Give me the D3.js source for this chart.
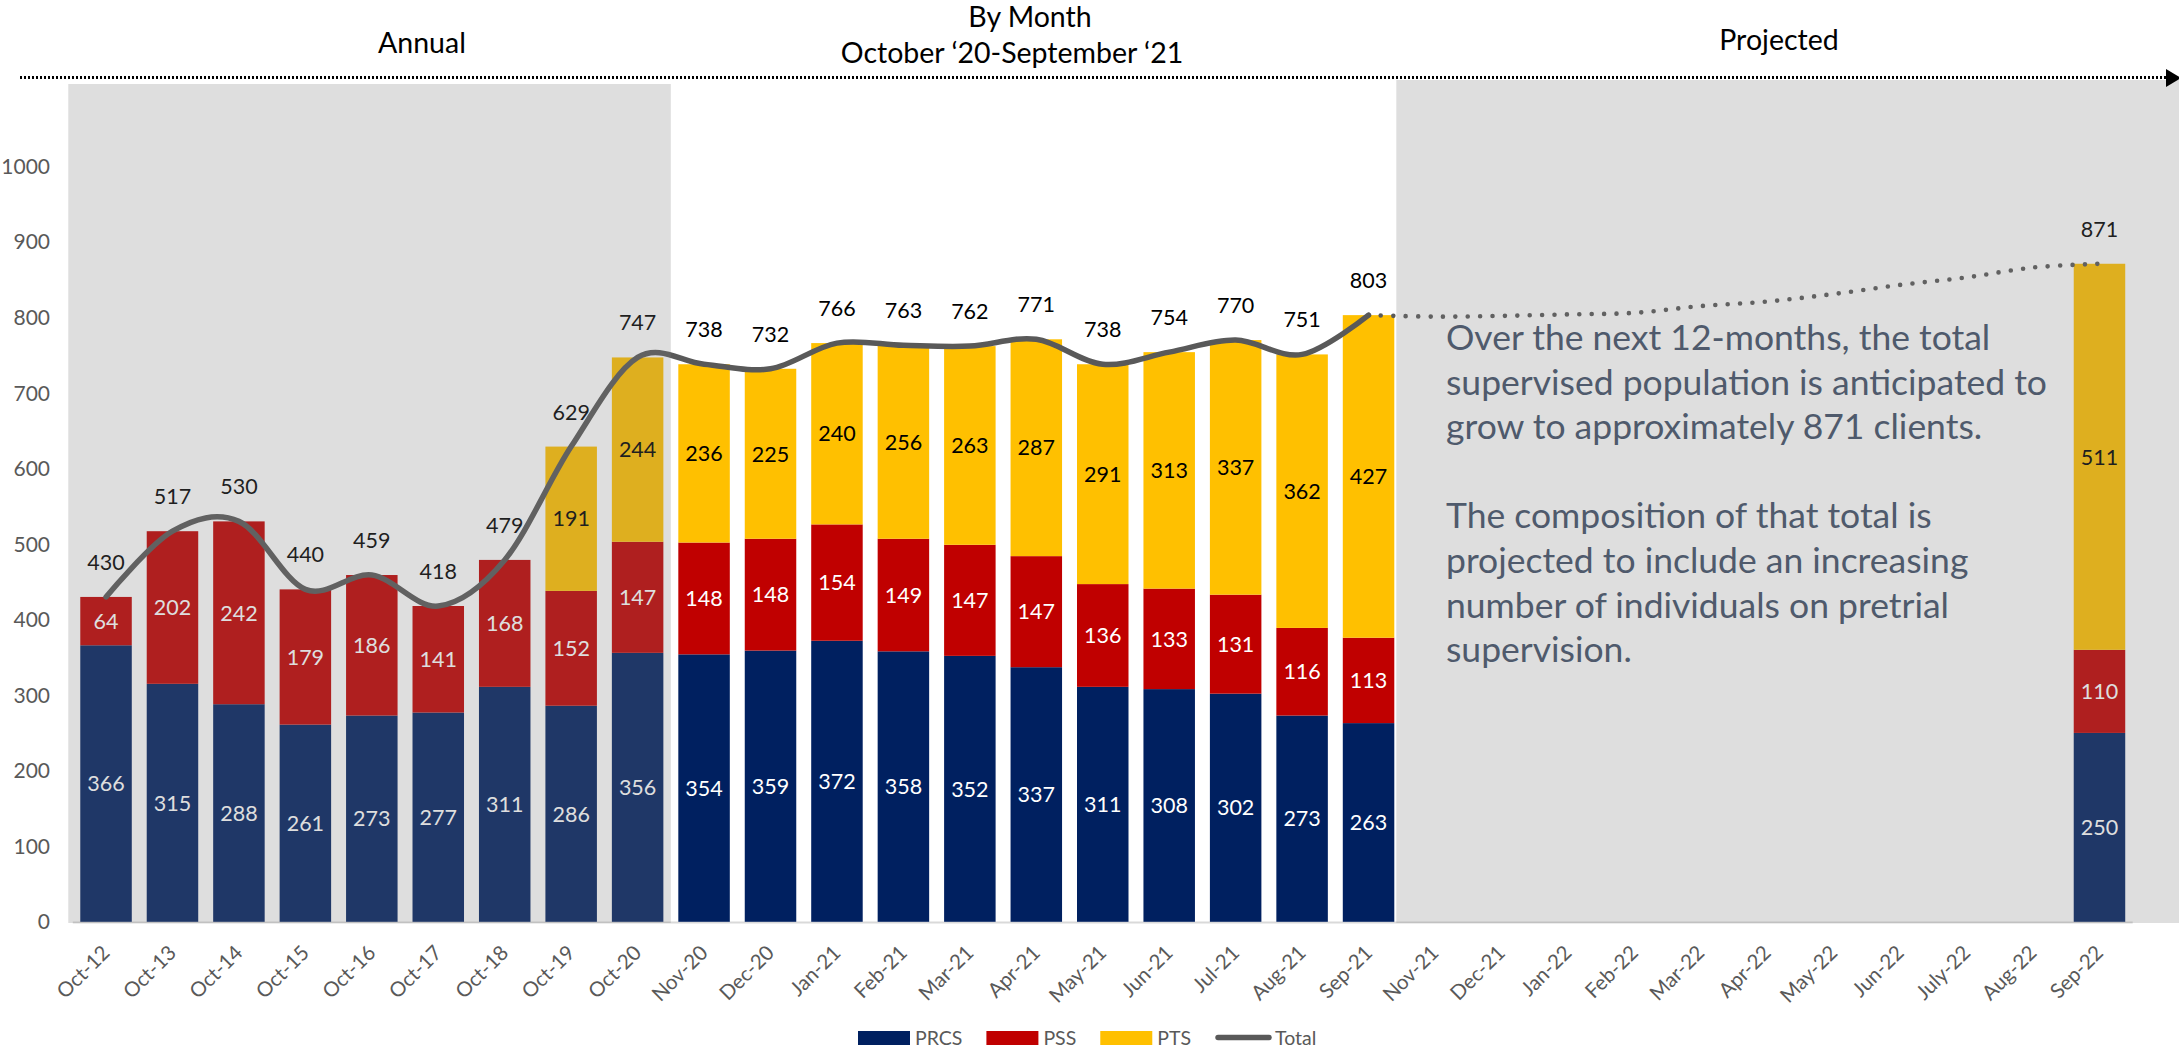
<!DOCTYPE html>
<html lang="en">
<head>
    <meta charset="UTF-8">
    <title>Supervised Population</title>
    <style>
        body {
            margin: 0;
            padding: 0;
            background: #fff;
            overflow: hidden;
        }
        text {
            font-family: Lato, "Liberation Sans", sans-serif;
        }
    </style>
</head>
<body>
    <div id="chart"></div>

    <script src="https://d3js.org/d3.v7.min.js"></script>
    <script>
        // chart data
        const categories = ["Oct-12", "Oct-13", "Oct-14", "Oct-15", "Oct-16", "Oct-17", "Oct-18", "Oct-19", "Oct-20",
            "Nov-20", "Dec-20", "Jan-21", "Feb-21", "Mar-21", "Apr-21", "May-21", "Jun-21", "Jul-21", "Aug-21", "Sep-21",
            "Nov-21", "Dec-21", "Jan-22", "Feb-22", "Mar-22", "Apr-22", "May-22", "Jun-22", "July-22", "Aug-22", "Sep-22"];

        const N = null;
        const prcs = [366, 315, 288, 261, 273, 277, 311, 286, 356, 354, 359, 372, 358, 352, 337, 311, 308, 302, 273, 263,
            N, N, N, N, N, N, N, N, N, N, 250];
        const pss = [64, 202, 242, 179, 186, 141, 168, 152, 147, 148, 148, 154, 149, 147, 147, 136, 133, 131, 116, 113,
            N, N, N, N, N, N, N, N, N, N, 110];
        const pts = [N, N, N, N, N, N, N, 191, 244, 236, 225, 240, 256, 263, 287, 291, 313, 337, 362, 427,
            N, N, N, N, N, N, N, N, N, N, 511];
        const total = [430, 517, 530, 440, 459, 418, 479, 629, 747, 738, 732, 766, 763, 762, 771, 738, 754, 770, 751, 803,
            N, N, N, N, N, N, N, N, N, N, 871];
        // projected trend (dotted), Sep-21 through Sep-22
        const projected = [N, N, N, N, N, N, N, N, N, N, N, N, N, N, N, N, N, N, N, 803,
            801, 802, 804, 806, 815, 821, 831, 843, 853, 866, 871];

        const yTicks = [0, 100, 200, 300, 400, 500, 600, 700, 800, 900, 1000];

        const noteLines = [
            "Over the next 12-months, the total",
            "supervised population is anticipated to",
            "grow to approximately 871 clients.",
            "",
            "The composition of that total is",
            "projected to include an increasing",
            "number of individuals on pretrial",
            "supervision."
        ];

        const series = [
            { key: "PRCS", values: prcs, color: "#002060", label: "#fff" },
            { key: "PSS", values: pss, color: "#c00000", label: "#fff" },
            { key: "PTS", values: pts, color: "#ffc000", label: "#000" }
        ];

        const width = 2179, height = 1053;

        const svg = d3.select("#chart").append("svg")
            .attr("width", width)
            .attr("height", height);

        const x = d3.scaleBand()
            .domain(categories)
            .range([72.8, 2132.7])
            .paddingInner(0.225)
            .paddingOuter(0.1125);

        const y = d3.scaleLinear()
            .domain([0, 1000])
            .range([921.8, 166.3]);

        const cx = i => x(categories[i]) + x.bandwidth() / 2;

        // baseline
        svg.append("line")
            .attr("x1", x.range()[0]).attr("x2", x.range()[1])
            .attr("y1", y(0) + 0.7).attr("y2", y(0) + 0.7)
            .attr("stroke", "#d9d9d9")
            .attr("stroke-width", 2);

        // stacked bars
        const rows = categories.map((c, i) => {
            const r = { cat: c, i };
            series.forEach(s => r[s.key] = s.values[i] || 0);
            return r;
        });
        const stack = d3.stack().keys(series.map(s => s.key))(rows);

        stack.forEach((layer, li) => {
            const s = series[li];
            svg.append("g")
                .selectAll("rect")
                .data(layer.filter(d => s.values[d.data.i] != null))
                .enter().append("rect")
                .attr("x", d => x(d.data.cat))
                .attr("width", x.bandwidth())
                .attr("y", d => y(d[1]))
                .attr("height", d => y(d[0]) - y(d[1]))
                .attr("fill", s.color);
        });

        stack.forEach((layer, li) => {
            const s = series[li];
            svg.append("g")
                .selectAll("text")
                .data(layer.filter(d => s.values[d.data.i] != null))
                .enter().append("text")
                .attr("x", d => cx(d.data.i))
                .attr("y", d => y((d[0] + d[1]) / 2))
                .attr("dy", "0.36em")
                .attr("text-anchor", "middle")
                .attr("font-size", "21.5px")
                .attr("fill", s.label)
                .text(d => s.values[d.data.i]);
        });

        // total line (smoothed like Excel)
        const solidEnd = categories.indexOf("Sep-21");
        const line = d3.line()
            .x(i => cx(i))
            .curve(d3.curveCardinal.tension(0));

        svg.append("path")
            .datum(d3.range(0, solidEnd + 1))
            .attr("d", line.y(i => y(total[i])))
            .attr("fill", "none")
            .attr("stroke", "#595959")
            .attr("stroke-width", 5.5)
            .attr("stroke-linecap", "round");

        svg.append("path")
            .datum(d3.range(0, categories.length).filter(i => projected[i] != null))
            .attr("d", line.y(i => y(projected[i])))
            .attr("fill", "none")
            .attr("stroke", "#595959")
            .attr("stroke-width", 4.6)
            .attr("stroke-linecap", "round")
            .attr("stroke-dasharray", "0 12.4");

        // total labels
        svg.append("g")
            .selectAll("text")
            .data(d3.range(0, categories.length).filter(i => total[i] != null))
            .enter().append("text")
            .attr("x", i => cx(i))
            .attr("y", i => y(total[i]) - 27)
            .attr("text-anchor", "middle")
            .attr("font-size", "21.5px")
            .attr("fill", "#000")
            .text(i => total[i]);

        // grey shading panels (semi transparent, like the original overlay)
        const step = x.step(), bw = x.bandwidth();
        const i20 = categories.indexOf("Oct-20");
        svg.append("rect")
            .attr("x", x(categories[0]) - 12)
            .attr("y", 84)
            .attr("width", cx(i20) + step / 2 - (x(categories[0]) - 12))
            .attr("height", 923 - 84)
            .attr("fill", "rgb(124,124,124)")
            .attr("fill-opacity", 0.25);

        const p2 = x(categories[solidEnd]) + bw + 2;
        svg.append("rect")
            .attr("x", p2)
            .attr("y", 80)
            .attr("width", width - p2)
            .attr("height", 923 - 80)
            .attr("fill", "rgb(124,124,124)")
            .attr("fill-opacity", 0.25);

        // note text
        svg.append("text")
            .attr("x", 1446)
            .attr("y", 350)
            .attr("font-size", "35.5px")
            .attr("fill", "#4f5a6c")
            .selectAll("tspan")
            .data(noteLines)
            .enter().append("tspan")
            .attr("x", 1446)
            .attr("dy", (d, i) => i === 0 ? 0 : 44.6)
            .text(d => d || " ");

        // y axis labels
        svg.append("g")
            .selectAll("text")
            .data(yTicks)
            .enter().append("text")
            .attr("x", 50)
            .attr("y", d => y(d))
            .attr("dy", "0.36em")
            .attr("text-anchor", "end")
            .attr("font-size", "21px")
            .attr("fill", "#595959")
            .text(d => d);

        // x axis labels
        svg.append("g")
            .selectAll("text")
            .data(categories)
            .enter().append("text")
            .attr("transform", (d, i) => `translate(${cx(i) + 5},${954}) rotate(-45)`)
            .attr("text-anchor", "end")
            .attr("font-size", "20.5px")
            .attr("fill", "#595959")
            .text(d => d);

        // section headers
        const headers = [
            { t: "Annual", x: 422, y: 53 },
            { t: "By Month", x: 1030, y: 27 },
            { t: "October \u201820-September \u201821", x: 1012, y: 63 },
            { t: "Projected", x: 1779, y: 50 }
        ];
        svg.append("g")
            .selectAll("text")
            .data(headers)
            .enter().append("text")
            .attr("x", d => d.x)
            .attr("y", d => d.y)
            .attr("text-anchor", "middle")
            .attr("font-size", "28.5px")
            .attr("fill", "#000")
            .text(d => d.t);

        // dotted timeline arrow
        svg.append("line")
            .attr("x1", 20).attr("x2", 2168)
            .attr("y1", 77.5).attr("y2", 77.5)
            .attr("stroke", "#000")
            .attr("stroke-width", 3)
            .attr("stroke-dasharray", "2 2");
        svg.append("path")
            .attr("d", "M2166,69 L2181,78 L2166,87 Z")
            .attr("fill", "#000");

        // legend
        const legendItems = series.map(s => ({ key: s.key, color: s.color, type: "rect" }))
            .concat([{ key: "Total", color: "#595959", type: "line" }]);
        const legend = svg.append("g");
        let lx = 858;
        legendItems.forEach(item => {
            if (item.type === "rect") {
                legend.append("rect")
                    .attr("x", lx).attr("y", 1031)
                    .attr("width", 52).attr("height", 14)
                    .attr("fill", item.color);
                lx += 57;
            } else {
                legend.append("line")
                    .attr("x1", lx + 3).attr("x2", lx + 54)
                    .attr("y1", 1037.5).attr("y2", 1037.5)
                    .attr("stroke", item.color)
                    .attr("stroke-width", 5.5)
                    .attr("stroke-linecap", "round");
                lx += 60;
            }
            const t = legend.append("text")
                .attr("x", lx).attr("y", 1045)
                .attr("font-size", "19.5px")
                .attr("fill", "#595959")
                .text(item.key);
            lx += t.node().getComputedTextLength() + 24;
        });
    </script>
</body>
</html>
